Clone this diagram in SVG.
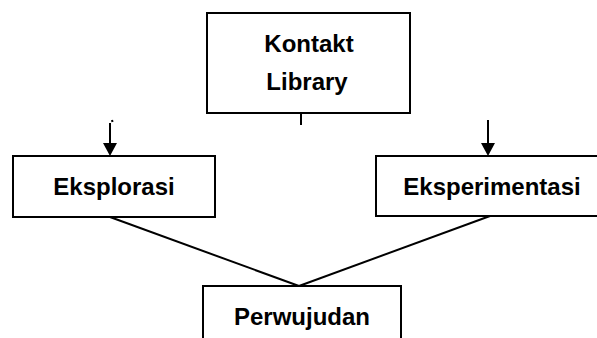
<svg xmlns="http://www.w3.org/2000/svg" width="597" height="338" viewBox="0 0 597 338">
<style>
.box{fill:#fff;stroke:#000;stroke-width:2}
.lbl{font-family:"Liberation Sans",Arial,sans-serif;font-weight:bold;font-size:24px;fill:#000;text-anchor:middle}
.ln{stroke:#000;stroke-width:2;fill:none}
.ah{fill:#000}
</style>
<rect width="597" height="338" fill="#fff"/>
<g id="connectors">
<line class="ln" x1="301" y1="113" x2="301" y2="125"/>
<line class="ln" x1="110" y1="123" x2="110" y2="145"/>
<polygon class="ah" points="103,143 117,143 110,156"/>
<line class="ln" x1="112" y1="120" x2="112.5" y2="122" stroke-width="1"/>
<line class="ln" x1="488" y1="120" x2="488" y2="145"/>
<polygon class="ah" points="481,143 495,143 488,156"/>
<line class="ln" x1="110" y1="217" x2="299" y2="286"/>
<line class="ln" x1="490" y1="216" x2="299" y2="286"/>
</g>
<g id="kontakt">
<rect class="box" x="207" y="13" width="203" height="100"/>
<text class="lbl" x="309" y="52">Kontakt</text>
<text class="lbl" x="307" y="90">Library</text>
</g>
<g id="eksplorasi">
<rect class="box" x="13" y="156" width="202" height="61"/>
<text class="lbl" x="114" y="195">Eksplorasi</text>
</g>
<g id="eksperimentasi">
<rect class="box" x="376" y="156" width="230" height="60"/>
<text class="lbl" x="492" y="195">Eksperimentasi</text>
</g>
<g id="perwujudan">
<rect class="box" x="203" y="286" width="198" height="60"/>
<text class="lbl" x="302" y="325">Perwujudan</text>
</g>
</svg>
